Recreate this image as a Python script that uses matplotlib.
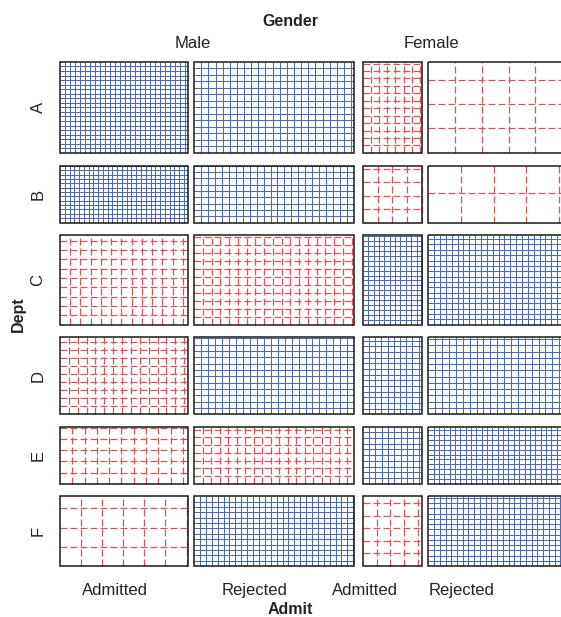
import numpy as np
import matplotlib
matplotlib.use("Agg")
import matplotlib.pyplot as plt
from matplotlib.patches import Rectangle

plt.rcParams['font.family'] = ['Liberation Sans', 'DejaVu Sans']
plt.rcParams['lines.scale_dashes'] = False

# UCB admissions: Dept x (Gender, Admit)
depts = ['A', 'B', 'C', 'D', 'E', 'F']
genders = ['Male', 'Female']
admit = ['Admitted', 'Rejected']
male_admitted = [512, 353, 120, 138, 53, 22]
male_rejected = [313, 207, 205, 279, 138, 351]
female_admitted = [89, 17, 202, 131, 94, 24]
female_rejected = [19, 8, 391, 244, 299, 317]

# layout (pixels)
x0, y0 = 60, 62
plot_w, plot_h = 484, 441
col_gaps = [0, 6, 9, 6]
row_gap = 12.6
label_scale = 0.93

blue = '#4d6ab6'
red = '#d85458'

table = np.array([male_admitted, male_rejected,
                  female_admitted, female_rejected]).T
N = table.sum()
row_tot = table.sum(axis=1)
col_tot = table.sum(axis=0)
expected = np.outer(row_tot, col_tot) / N

fig = plt.figure(figsize=(5.61, 6.17), dpi=100)
ax = fig.add_axes([0, 0, 1, 1])
ax.set_xlim(0, 561)
ax.set_ylim(617, 0)
ax.axis('off')

# column positions
col_left = []
x = x0
for j in range(4):
    x += col_gaps[j]
    col_left.append(x)
    x += col_tot[j] / N * plot_w

row_top = []
y = y0
for i in range(6):
    row_top.append(y)
    y += row_tot[i] / N * plot_h + row_gap

for i in range(6):
    hn = row_tot[i] / N
    for j in range(4):
        wn = col_tot[j] / N
        obs = table[i, j]
        side = np.sqrt(wn * hn / obs)
        left = col_left[j]
        top = row_top[i]
        w = wn * plot_w
        h = hn * plot_h
        bottom = top + h
        if obs > expected[i, j]:
            kw = dict(color=blue, lw=0.75, linestyle='-')
        else:
            kw = dict(color=red, lw=0.9, dashes=(5, 2.2))
        k = 1
        while k * side < wn - 1e-9:
            xx = left + k * side * plot_w
            ax.plot([xx, xx], [bottom, top], solid_capstyle='butt',
                    dash_capstyle='butt', **kw)
            k += 1
        k = 1
        while k * side < hn - 1e-9:
            yy = bottom - k * side * plot_h
            ax.plot([left, left + w], [yy, yy], solid_capstyle='butt',
                    dash_capstyle='butt', **kw)
            k += 1
        ax.add_patch(Rectangle((left, top), w, h, fill=False,
                               edgecolor='#1a1a1a', lw=1.1, zorder=5))

txt = '#222222'
# gender labels
male_c = (col_left[0] + col_left[1] + col_tot[1] / N * plot_w) / 2
fem_c = (col_left[2] + col_left[3] + col_tot[3] / N * plot_w) / 2
all_c = (col_left[0] + col_left[3] + col_tot[3] / N * plot_w) / 2
ax.text(all_c * label_scale, 26, 'Gender', ha='center', va='baseline',
        fontsize=11.5, fontweight='bold', color=txt)
for name, c in zip(genders, [male_c, fem_c]):
    ax.text(c * label_scale, 48, name, ha='center', va='baseline',
            fontsize=12, color=txt)

# admit labels
for j in range(4):
    c = col_left[j] + col_tot[j] / N * plot_w / 2
    ax.text(c * label_scale, 595, admit[j % 2], ha='center', va='baseline',
            fontsize=12, color=txt)
ax.text(all_c * label_scale, 614, 'Admit', ha='center', va='baseline',
        fontsize=11.5, fontweight='bold', color=txt)

# dept labels
for i in range(6):
    c = row_top[i] + row_tot[i] / N * plot_h / 2
    ax.text(38, c, depts[i], ha='center', va='center', rotation=90,
            fontsize=12, color=txt)
mid = (row_top[0] + row_top[-1] + row_tot[-1] / N * plot_h) / 2
ax.text(18, mid, 'Dept', ha='center', va='center', rotation=90,
        fontsize=11.5, fontweight='bold', color=txt)

fig.savefig('out.png', dpi=100)
